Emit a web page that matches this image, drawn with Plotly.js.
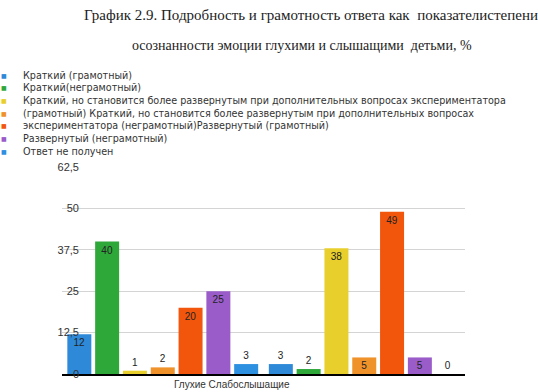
<!DOCTYPE html>
<html>
<head>
<meta charset="utf-8">
<script src="https://cdn.plot.ly/plotly-3.0.1.min.js"></script>
<style>html,body{margin:0;padding:0;background:#fff;}#chart{width:538px;height:392px;}</style>
</head>
<body>
<div id="chart"></div>
<script>
// ---- data ----
const categories = ["Глухие", "Слабослышащие"];
const seriesNames = [
  "Краткий (грамотный)",
  "Краткий(неграмотный)",
  "Краткий, но становится более развернутым при дополнительных вопросах экспериментатора",
  "(грамотный) Краткий, но становится более развернутым при дополнительных вопросах",
  "экспериментатора (неграмотный)Развернутый (грамотный)",
  "Развернутый (неграмотный)",
  "Ответ не получен"
];
const deafValues = [12, 40, 1, 2, 20, 25, 3];
const hardOfHearingValues = [3, 1.5, 38, 5, 49, 5, 0];
const seriesColors = ["#2e8ad8", "#2fa83a", "#e9cf2c", "#f0922a", "#f2560c", "#9a5cc8", "#2e90e0"];
const yTicks = [0, 12.5, 25, 37.5, 50, 62.5];
const titleLine1 = "График 2.9. Подробность и грамотность ответа как  показателистепени";
const titleLine2 = "осознанности эмоции глухими и слышащими  детьми, %";

// ---- layout geometry (pixels) ----
const W = 538, H = 392;
const M = {l: 62, r: 73, t: 167, b: 18};
const pw = W - M.l - M.r, ph = H - M.t - M.b;
const px2x = p => (p - M.l) / pw;
const py2y = p => (H - M.b - p) / ph;

const labelFont = {family: "Liberation Sans, Arial, sans-serif", size: 10, color: "#222"};
const traces = seriesNames.map((name, i) => {
  const vals = [deafValues[i], hardOfHearingValues[i]];
  return {
    type: "bar",
    name: name,
    x: categories,
    y: vals,
    marker: {color: seriesColors[i]},
    text: vals.map(v => String(Math.round(v))),
    texttemplate: "%{text}",
    textposition: vals.map(v => (v < 4 ? "outside" : "inside")),
    insidetextanchor: "end",
    textangle: 0,
    constraintext: "none",
    cliponaxis: false,
    textfont: labelFont,
    insidetextfont: labelFont,
    outsidetextfont: labelFont,
    showlegend: false,
    hoverinfo: "none"
  };
});

const annotations = [];
// second title line
annotations.push({
  xref: "paper", yref: "paper", x: px2x(302), y: py2y(45),
  xanchor: "center", yanchor: "middle", showarrow: false,
  text: titleLine2,
  font: {family: "Liberation Serif, Times New Roman, serif", size: 14, color: "#222"}
});
// legend rows
const legendTop = 75, legendStep = 12.7;
seriesNames.forEach((name, i) => {
  const py = legendTop + i * legendStep;
  annotations.push({
    xref: "paper", yref: "paper", x: px2x(4), y: py2y(py),
    xanchor: "center", yanchor: "middle", showarrow: false,
    text: "■",
    font: {family: "DejaVu Sans", size: 6, color: seriesColors[i]}
  });
  annotations.push({
    xref: "paper", yref: "paper", x: px2x(21), y: py2y(py),
    xanchor: "left", yanchor: "middle", showarrow: false,
    text: name,
    font: {family: "DejaVu Sans, sans-serif", size: 9.6, color: "#333"}
  });
});
// category label under the axis
annotations.push({
  xref: "paper", yref: "paper", x: px2x(232), y: py2y(384),
  xanchor: "center", yanchor: "middle", showarrow: false,
  text: categories.join(" "),
  font: {family: "Liberation Sans, Arial, sans-serif", size: 10, color: "#333"}
});

const layout = {
  width: W, height: H,
  margin: {l: M.l, r: M.r, t: M.t, b: M.b, pad: 0, autoexpand: false},
  paper_bgcolor: "#fff", plot_bgcolor: "#fff",
  title: {
    text: titleLine1,
    xref: "container", yref: "container",
    x: 311 / W, y: 1 - 15 / H, xanchor: "center", yanchor: "middle",
    font: {family: "Liberation Serif, Times New Roman, serif", size: 15, color: "#222"}
  },
  barmode: "group",
  bargap: 0.034,
  bargroupgap: 0.137,
  separators: ", ",
  showlegend: false,
  xaxis: {
    type: "category",
    showticklabels: false,
    showgrid: false,
    showline: true, linecolor: "#000", linewidth: 1.5,
    ticks: "", zeroline: false
  },
  yaxis: {
    range: [0, 62.5],
    tickvals: yTicks,
    ticktext: yTicks.map(v => String(v).replace(".", ",")),
    showgrid: true, gridcolor: "#d4d4d4", gridwidth: 1,
    zeroline: false, showline: false, ticks: "",
    ticklabelstandoff: -18,
    tickfont: {family: "Liberation Sans, Arial, sans-serif", size: 11, color: "#333"}
  },
  annotations: annotations
};

Plotly.newPlot("chart", traces, layout, {displayModeBar: false, staticPlot: true});
</script>
</body>
</html>
